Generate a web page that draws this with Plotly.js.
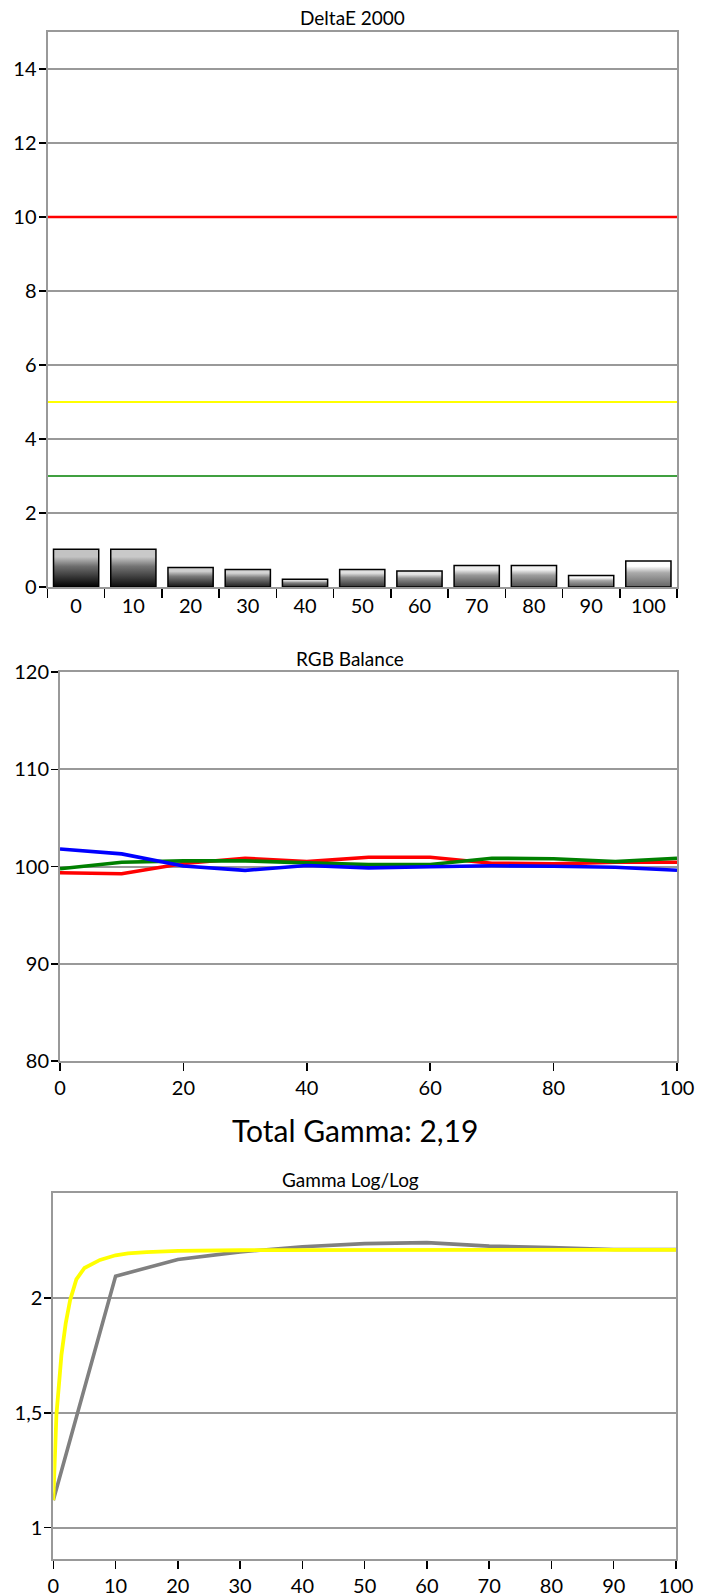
<!DOCTYPE html>
<html>
<head>
<meta charset="utf-8">
<script src="https://cdn.plot.ly/plotly-3.0.1.min.js"></script>
<style>
  html, body { margin: 0; padding: 0; background: #fff; }
  #chart { width: 709px; height: 1596px; }
</style>
</head>
<body>
<div id="chart"></div>
<script>
// ---------- DATA ----------
// DeltaE 2000
const deLabels = ['0', '10', '20', '30', '40', '50', '60', '70', '80', '90', '100'];
const deltaE = [1.02, 1.02, 0.53, 0.47, 0.21, 0.47, 0.43, 0.58, 0.58, 0.31, 0.70];
const deThresholds = [10, 5, 3];

// RGB Balance
const rgbX = [0, 10, 20, 30, 40, 50, 60, 70, 80, 90, 100];
const rgbRed = [99.35, 99.25, 100.3, 100.85, 100.5, 100.95, 100.95, 100.34, 100.27, 100.44, 100.44];
const rgbGreen = [99.76, 100.44, 100.58, 100.58, 100.37, 100.2, 100.2, 100.85, 100.8, 100.5, 100.85];
const rgbBlue = [101.8, 101.3, 100.05, 99.6, 100.1, 99.86, 99.97, 100.07, 100.03, 99.93, 99.62];

// Gamma Log/Log
const gammaX = [0, 10, 20, 30, 40, 50, 60, 70, 80, 90, 100];
const gammaMeasured = [1.12, 2.094, 2.167, 2.20, 2.222, 2.236, 2.24, 2.225, 2.219, 2.21, 2.21];
const targetX = [0, 0.5, 1.3, 2, 2.7, 3.7, 5, 7.5, 10, 12, 15, 20, 30, 40, 50, 60, 70, 80, 90, 100];
const targetGamma = [1.12, 1.49, 1.75, 1.89, 1.99, 2.08, 2.13, 2.165, 2.185, 2.193, 2.199, 2.204, 2.207, 2.208, 2.209, 2.209, 2.209, 2.209, 2.209, 2.209];

const totalGammaText = 'Total Gamma: 2,19';
const titles = ['DeltaE 2000', 'RGB Balance', 'Gamma Log/Log'];

// ---------- STYLE ----------
const FONT = 'Lato, "Open Sans", sans-serif';
const GRID = '#999999';
const BAR_HALF = 0.395;

function gray(v) { v = Math.round(v); return 'rgb(' + v + ',' + v + ',' + v + ')'; }

const traces = [];

// bars with vertical gradient
deltaE.forEach(function (v, i) {
  const t = i / (deltaE.length - 1);
  const bottom = gray(0 + 100 * t);
  const mid = gray(110 + 60 * t);
  const top = gray(195 + 58 * t);
  traces.push({
    type: 'scatter', mode: 'lines', xaxis: 'x', yaxis: 'y',
    x: [i - BAR_HALF, i + BAR_HALF, i + BAR_HALF, i - BAR_HALF, i - BAR_HALF],
    y: [0, 0, v, v, 0],
    fill: 'toself',
    fillgradient: { type: 'vertical', colorscale: [[0, bottom], [0.55, mid], [0.8, top], [1, top]] },
    line: { color: '#000', width: 1.5 },
    hoverinfo: 'skip', showlegend: false
  });
});

const thrColors = ['#ff0000', '#ffff00', '#008000'];
const thrWidths = [2.5, 1.8, 1.5];
deThresholds.forEach(function (t, k) {
  traces.push({
    type: 'scatter', mode: 'lines', xaxis: 'x', yaxis: 'y',
    x: [-0.5, deLabels.length - 0.5], y: [t, t],
    line: { color: thrColors[k], width: thrWidths[k] },
    hoverinfo: 'skip', showlegend: false
  });
});

// RGB balance lines
[[rgbRed, '#ff0000'], [rgbGreen, '#008000'], [rgbBlue, '#0000ff']].forEach(function (s) {
  traces.push({
    type: 'scatter', mode: 'lines', xaxis: 'x2', yaxis: 'y2',
    x: rgbX, y: s[0], line: { color: s[1], width: 3.6 },
    hoverinfo: 'skip', showlegend: false
  });
});

// Gamma lines
traces.push({
  type: 'scatter', mode: 'lines', xaxis: 'x3', yaxis: 'y3',
  x: gammaX, y: gammaMeasured, line: { color: '#808080', width: 3.6 },
  hoverinfo: 'skip', showlegend: false
});
traces.push({
  type: 'scatter', mode: 'lines', xaxis: 'x3', yaxis: 'y3',
  x: targetX, y: targetGamma, line: { color: '#ffff00', width: 3.8 },
  hoverinfo: 'skip', showlegend: false
});

const W = 709, H = 1596;
function px(v) { return v / W; }
function py(v) { return 1 - v / H; }

const tickFont = { family: FONT, size: 20, color: '#000' };
const baseAxis = {
  showline: true, mirror: true, linecolor: GRID, linewidth: 2,
  zeroline: false, showgrid: false, fixedrange: true,
  tickfont: tickFont, tickcolor: '#000', tickwidth: 1.5
};
const yExtra = { ticklabelstandoff: -2 };

const layout = {
  width: W, height: H,
  margin: { l: 0, r: 0, t: 0, b: 0 },
  paper_bgcolor: '#fff', plot_bgcolor: '#fff',
  separators: ', ',
  showlegend: false,
  font: { family: FONT, color: '#000' },
  xaxis: Object.assign({}, baseAxis, {
    domain: [px(47.5), px(677)], anchor: 'y',
    range: [-0.5, deLabels.length - 0.5],
    tickmode: 'array', tickvals: deLabels.map(function (_, i) { return i; }), ticktext: deLabels,
    ticks: '',
    minor: { tickmode: 'linear', tick0: -0.5, dtick: 1, ticks: 'outside', ticklen: 9, tickwidth: 1.5, tickcolor: '#000', showgrid: false }
  }),
  yaxis: Object.assign({}, baseAxis, yExtra, {
    domain: [py(587), py(32)], anchor: 'x',
    range: [0, 15], tickmode: 'array', tickvals: [0, 2, 4, 6, 8, 10, 12, 14],
    ticks: 'outside', ticklen: 7, showgrid: true, gridcolor: GRID, gridwidth: 2
  }),
  xaxis2: Object.assign({}, baseAxis, {
    domain: [px(60), px(677)], anchor: 'y2',
    range: [0, 100], tickmode: 'linear', tick0: 0, dtick: 20,
    ticks: 'outside', ticklen: 8
  }),
  yaxis2: Object.assign({}, baseAxis, yExtra, {
    domain: [py(1061), py(672)], anchor: 'x2',
    range: [80, 120], tickmode: 'linear', tick0: 80, dtick: 10,
    ticks: 'outside', ticklen: 7, showgrid: true, gridcolor: GRID, gridwidth: 2
  }),
  xaxis3: Object.assign({}, baseAxis, {
    domain: [px(53.3), px(676)], anchor: 'y3',
    range: [0, 100], tickmode: 'linear', tick0: 0, dtick: 10,
    ticks: 'outside', ticklen: 8
  }),
  yaxis3: Object.assign({}, baseAxis, yExtra, {
    domain: [py(1559), py(1193)], anchor: 'x3',
    range: [0.864, 2.456], tickmode: 'array', tickvals: [1, 1.5, 2],
    ticks: 'outside', ticklen: 7, showgrid: true, gridcolor: GRID, gridwidth: 2
  }),
  annotations: [
    { text: titles[0], xref: 'paper', yref: 'paper', x: px(352), y: py(18), xanchor: 'center', yanchor: 'middle', showarrow: false, font: { family: FONT, size: 19, color: '#000' } },
    { text: titles[1], xref: 'paper', yref: 'paper', x: px(350), y: py(659), xanchor: 'center', yanchor: 'middle', showarrow: false, font: { family: FONT, size: 19, color: '#000' } },
    { text: totalGammaText, xref: 'paper', yref: 'paper', x: px(355), y: py(1130), xanchor: 'center', yanchor: 'middle', showarrow: false, font: { family: FONT, size: 30, color: '#000' } },
    { text: titles[2], xref: 'paper', yref: 'paper', x: px(350), y: py(1179), xanchor: 'center', yanchor: 'middle', showarrow: false, font: { family: FONT, size: 19, color: '#000' } }
  ]
};

Plotly.newPlot('chart', traces, layout, { staticPlot: true, displayModeBar: false });
</script>
</body>
</html>
